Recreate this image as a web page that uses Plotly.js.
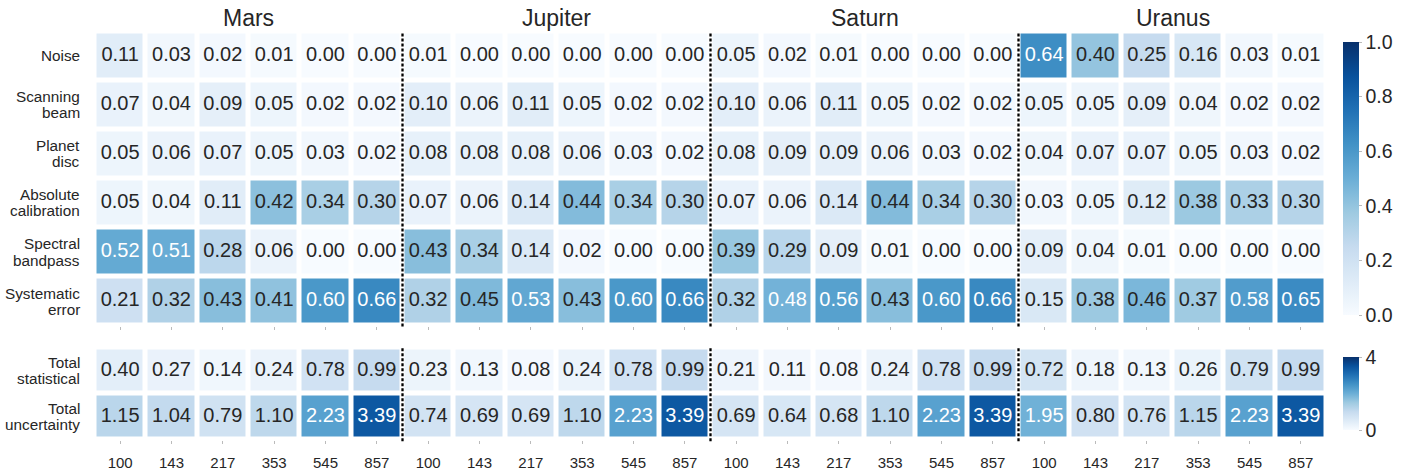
<!DOCTYPE html>
<html>
<head>
<meta charset="utf-8">
<script src="https://cdn.plot.ly/plotly-3.0.1.min.js"></script>
<style>html,body{margin:0;padding:0;background:#fff;}#chart{width:1410px;height:470px;}</style>
</head>
<body>
<div id="chart"></div>
<script>
// ---- data ----
const planets = ["Mars", "Jupiter", "Saturn", "Uranus"];
const freqs = ["100", "143", "217", "353", "545", "857"];

const topRows = ["Noise", "Scanning\nbeam", "Planet\ndisc", "Absolute\ncalibration", "Spectral\nbandpass", "Systematic\nerror"];
const bottomRows = ["Total\nstatistical", "Total\nuncertainty"];

// values: Mars | Jupiter | Saturn | Uranus (each 100..857 GHz)
const noise            = [0.11,0.03,0.02,0.01,0.00,0.00, 0.01,0.00,0.00,0.00,0.00,0.00, 0.05,0.02,0.01,0.00,0.00,0.00, 0.64,0.40,0.25,0.16,0.03,0.01];
const scanningBeam     = [0.07,0.04,0.09,0.05,0.02,0.02, 0.10,0.06,0.11,0.05,0.02,0.02, 0.10,0.06,0.11,0.05,0.02,0.02, 0.05,0.05,0.09,0.04,0.02,0.02];
const planetDisc       = [0.05,0.06,0.07,0.05,0.03,0.02, 0.08,0.08,0.08,0.06,0.03,0.02, 0.08,0.09,0.09,0.06,0.03,0.02, 0.04,0.07,0.07,0.05,0.03,0.02];
const absCalibration   = [0.05,0.04,0.11,0.42,0.34,0.30, 0.07,0.06,0.14,0.44,0.34,0.30, 0.07,0.06,0.14,0.44,0.34,0.30, 0.03,0.05,0.12,0.38,0.33,0.30];
const spectralBandpass = [0.52,0.51,0.28,0.06,0.00,0.00, 0.43,0.34,0.14,0.02,0.00,0.00, 0.39,0.29,0.09,0.01,0.00,0.00, 0.09,0.04,0.01,0.00,0.00,0.00];
const systematicError  = [0.21,0.32,0.43,0.41,0.60,0.66, 0.32,0.45,0.53,0.43,0.60,0.66, 0.32,0.48,0.56,0.43,0.60,0.66, 0.15,0.38,0.46,0.37,0.58,0.65];
const totalStatistical = [0.40,0.27,0.14,0.24,0.78,0.99, 0.23,0.13,0.08,0.24,0.78,0.99, 0.21,0.11,0.08,0.24,0.78,0.99, 0.72,0.18,0.13,0.26,0.79,0.99];
const totalUncertainty = [1.15,1.04,0.79,1.10,2.23,3.39, 0.74,0.69,0.69,1.10,2.23,3.39, 0.69,0.64,0.68,1.10,2.23,3.39, 1.95,0.80,0.76,1.15,2.23,3.39];

// ---- build ----
const topZ = [noise, scanningBeam, planetDisc, absCalibration, spectralBandpass, systematicError];
const botZ = [totalStatistical, totalUncertainty];

const nCols = planets.length * freqs.length;
const cols = [];
const tickText = [];
planets.forEach((p, pi) => freqs.forEach((f, fi) => { cols.push(pi * freqs.length + fi); tickText.push(f); }));

const blues = [[0,'#f7fbff'],[0.125,'#deebf7'],[0.25,'#c6dbef'],[0.375,'#9ecae1'],[0.5,'#6baed6'],[0.625,'#4292c6'],[0.75,'#2171b5'],[0.875,'#08519c'],[1,'#08306b']];
const FONT = "Liberation Sans, Arial, sans-serif";
const DARK = "#262626";

// pixel geometry -> paper fractions
const W = 1410, H = 470;
const xDom = [94.5 / W, 1326.5 / W];
const yTopDom = [1 - 325.5 / H, 1 - 31.5 / H];
const yBotDom = [1 - 439.5 / H, 1 - 347.5 / H];

function textTrace(z, zmax, xa, ya) {
  const xs = [], ys = [], ts = [], cs = [];
  z.forEach((row, r) => row.forEach((v, c) => {
    xs.push(cols[c]); ys.push(r); ts.push(v.toFixed(2));
    cs.push(v / zmax > 0.47 ? '#ffffff' : DARK);
  }));
  return {type:'scatter', mode:'text', x:xs, y:ys, text:ts, xaxis:xa, yaxis:ya,
          textfont:{family:FONT, size:20, color:cs}, hoverinfo:'skip', showlegend:false, cliponaxis:false};
}

const cbFont = {family:FONT, size:19.5, color:DARK};
const traces = [
  {type:'heatmap', z:topZ, x:cols, y:topRows.map((_, i) => i), zmin:0, zmax:1, colorscale:blues,
   xgap:5, ygap:5, xaxis:'x', yaxis:'y', hoverinfo:'skip',
   colorbar:{x:1333 / W, xanchor:'left', y:1 - 32 / H, yanchor:'top', len:293, lenmode:'pixels',
             thickness:16, thicknessmode:'pixels', outlinewidth:0, tickvals:[0,0.2,0.4,0.6,0.8,1.0],
             tickformat:'.1f', ticks:'outside', ticklen:3, tickcolor:'#bbbbbb', tickfont:cbFont}},
  {type:'heatmap', z:botZ, x:cols, y:bottomRows.map((_, i) => i), zmin:0, zmax:4, colorscale:blues,
   xgap:5, ygap:5, xaxis:'x2', yaxis:'y2', hoverinfo:'skip',
   colorbar:{x:1333 / W, xanchor:'left', y:1 - 347 / H, yanchor:'top', len:93, lenmode:'pixels',
             thickness:16, thicknessmode:'pixels', outlinewidth:0, tickvals:[0,4],
             ticks:'outside', ticklen:3, tickcolor:'#bbbbbb', tickfont:cbFont}},
  textTrace(topZ, 1, 'x', 'y'),
  textTrace(botZ, 4, 'x2', 'y2')
];

const annotations = [];
planets.forEach((p, pi) => {
  annotations.push({text:p, xref:'x', x:pi * freqs.length + (freqs.length - 1) / 2, yref:'paper', y:1 - 18 / H,
    yanchor:'middle', showarrow:false, font:{family:FONT, size:23, color:DARK}});
});
function rowLabels(rows, yref, spacing) {
  rows.forEach((lab, r) => {
    const lines = lab.split('\n');
    lines.forEach((ln, j) => {
      annotations.push({text:ln, xref:'paper', x:xDom[0], xanchor:'right', xshift:-13,
        yref:yref, y:r, yanchor:'middle', yshift:-(j - (lines.length - 1) / 2) * spacing,
        showarrow:false, font:{family:FONT, size:15.3, color:DARK}});
    });
  });
}
rowLabels(topRows, 'y', 16);
rowLabels(bottomRows, 'y2', 15.5);

const shapes = [];
for (let pi = 1; pi < planets.length; pi++) {
  const xb = pi * freqs.length - 0.5;
  shapes.push({type:'line', xref:'x', x0:xb, x1:xb, yref:'y domain', y0:-0.003, y1:1,
    line:{color:'#000000', width:2.3, dash:'3px,2px'}});
  shapes.push({type:'line', xref:'x2', x0:xb, x1:xb, yref:'y2 domain', y0:-0.02, y1:1,
    line:{color:'#000000', width:2.3, dash:'3px,2px'}});
}

const xCommon = {domain:xDom, range:[-0.5, nCols - 0.5], tickvals:cols, ticktext:tickText,
  showgrid:false, zeroline:false, showline:false, ticks:'outside', ticklen:3, tickwidth:1,
  tickcolor:'#bbbbbb', automargin:false, fixedrange:true,
  tickfont:{family:FONT, size:15, color:DARK}};

const layout = {
  width:W, height:H, autosize:false,
  margin:{l:0, r:0, t:0, b:0, pad:0},
  paper_bgcolor:'#ffffff', plot_bgcolor:'#ffffff',
  showlegend:false,
  font:{family:FONT, color:DARK},
  xaxis:Object.assign({}, xCommon, {anchor:'y', showticklabels:false}),
  xaxis2:Object.assign({}, xCommon, {anchor:'y2', showticklabels:true, ticklabelstandoff:6}),
  yaxis:{domain:yTopDom, range:[topRows.length - 0.5, -0.5], showticklabels:false, showgrid:false,
         zeroline:false, ticks:'', automargin:false, fixedrange:true},
  yaxis2:{domain:yBotDom, range:[bottomRows.length - 0.5, -0.5], showticklabels:false, showgrid:false,
          zeroline:false, ticks:'', automargin:false, fixedrange:true},
  annotations:annotations,
  shapes:shapes
};

Plotly.newPlot('chart', traces, layout, {displayModeBar:false, staticPlot:true});
</script>
</body>
</html>
